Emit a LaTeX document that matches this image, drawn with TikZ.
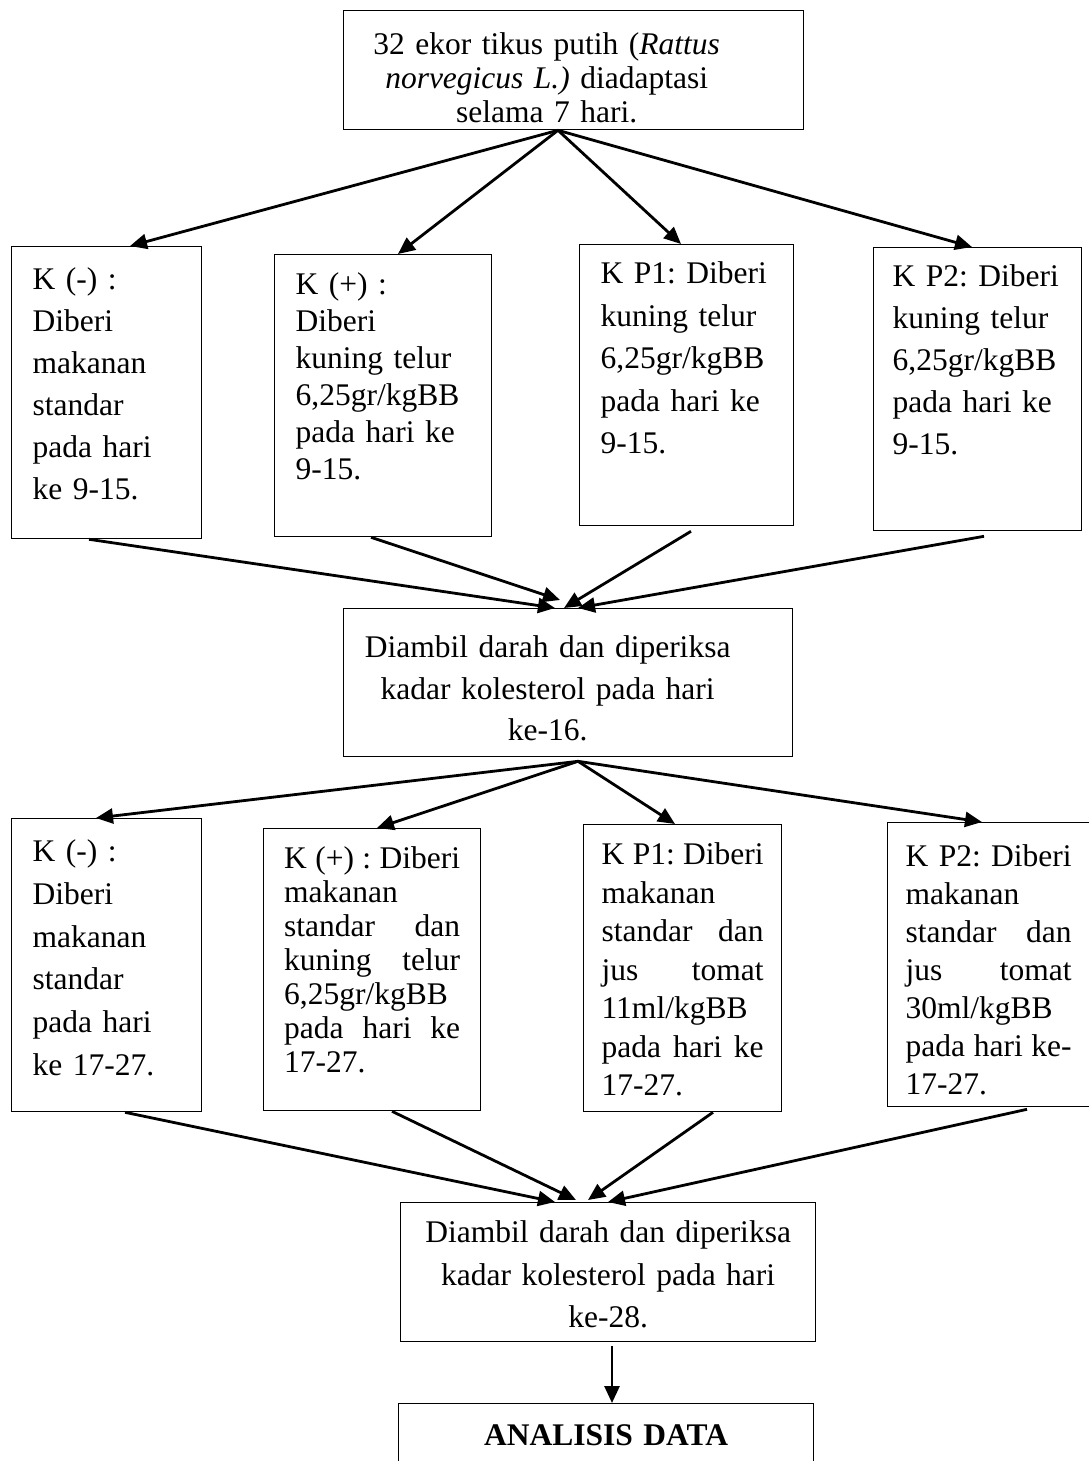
\documentclass[tikz,border=0pt]{standalone}
\usepackage{fontspec}
\setmainfont{Liberation Serif}
\usepackage{tikz}
\usetikzlibrary{arrows.meta}

\begin{document}
\frenchspacing
\begin{tikzpicture}[
    x=1pt, y=-1pt,
    box/.style={draw, line width=1.3pt, rectangle, anchor=north west,
                inner xsep=21pt, inner ysep=0pt, align=left},
    fs/.style={font=\fontsize{31.5}{#1}\selectfont},
    arr/.style={-{Triangle[length=17pt,width=15pt]}, line width=2.8pt},
  ]
  \useasboundingbox (0,0) rectangle (1089,1461);
  \clip (0,0) rectangle (1089,1461);

  % awal
  \node[box, fs=34, align=center, inner xsep=10pt, text width=440pt,
        text height=44pt, text depth=75pt] (top) at (343,10)
        {\hspace*{-54pt}32 ekor tikus putih (\textit{Rattus}\\
         \hspace*{-54pt}\textit{norvegicus L.)} diadaptasi\\
         \hspace*{-54pt}selama 7 hari.};

  % perlakuan hari 9-15
  \node[box, fs=42, text width=148pt, text height=43pt, text depth=249pt]
        (a1) at (11,246)
        {K (-) :\\ Diberi\\ makanan\\ standar\\ pada hari\\ ke 9-15.};
  \node[box, fs=37, text width=175pt, text height=40pt, text depth=242pt]
        (a2) at (274,254)
        {K (+) :\\ Diberi\\ kuning telur\\ 6,25gr/kgBB\\ pada hari ke\\ 9-15.};
  \node[box, fs=42.5, text width=172pt, text height=39pt, text depth=242pt]
        (a3) at (579,244)
        {K P1: Diberi\\ kuning telur\\ 6,25gr/kgBB\\ pada hari ke\\ 9-15.};
  \node[box, fs=42, inner xsep=19pt, text width=170pt, text height=39pt,
        text depth=244pt] (a4) at (873,247)
        {K P2: Diberi\\ kuning telur\\ 6,25gr/kgBB\\ pada hari ke\\ 9-15.};

  \node[box, fs=41.5, align=center, inner xsep=10pt, text width=429pt,
        text height=49pt, text depth=99pt] (m1) at (343,608)
        {\hspace*{-41pt}Diambil darah dan diperiksa\\
         \hspace*{-41pt}kadar kolesterol pada hari\\
         \hspace*{-41pt}ke-16.};

  % perlakuan hari 17-27
  \node[box, fs=42.7, text width=148pt, text height=43pt, text depth=250pt]
        (b1) at (11,818)
        {K (-) :\\ Diberi\\ makanan\\ standar\\ pada hari\\ ke 17-27.};
  \node[box, fs=34, inner xsep=20.5pt, text width=176pt, text height=40pt,
        text depth=242pt] (b2) at (263,828)
        {K\hfill(+)\hfill:\hfill Diberi\\ makanan\\ standar\hfill dan\\
         kuning\hfill telur\\ 6,25gr/kgBB\\ pada\hfill hari\hfill ke\\ 17-27.};
  \node[box, fs=38.5, inner xsep=18pt, text width=162pt, text height=40pt,
        text depth=247pt] (b3) at (583,824)
        {K\hfill P1:\hfill Diberi\\ makanan\\ standar\hfill dan\\
         jus\hfill tomat\\ 11ml/kgBB\\ pada\hfill hari\hfill ke\\ 17-27.};
  \node[box, fs=38, inner xsep=18pt, text width=166pt, text height=44pt,
        text depth=240pt] (b4) at (887,822)
        {K\hfill P2:\hfill Diberi\\ makanan\\ standar\hfill dan\\
         jus\hfill tomat\\ 30ml/kgBB\\ pada\hfill hari\hfill ke-\\ 17-27.};

  \node[box, fs=42.5, align=center, inner xsep=10pt, text width=395pt,
        text height=40pt, text depth=99pt] (m2) at (400,1202)
        {Diambil darah dan diperiksa\\
         kadar kolesterol pada hari\\
         ke-28.};

  \node[box, fs=42, align=center, inner xsep=10pt, text width=395pt,
        text height=42pt, text depth=40pt] (ad) at (398,1403)
        {\textbf{ANALISIS DATA}};

  % panah
  \draw[arr] ([xshift=215pt]top.south west) -- ([xshift=119pt]a1.north west);
  \draw[arr] ([xshift=215pt]top.south west) -- ([xshift=124pt]a2.north west);
  \draw[arr] ([xshift=215pt]top.south west) -- ([xshift=102pt]a3.north west);
  \draw[arr] ([xshift=215pt]top.south west) -- ([xshift=99pt]a4.north west);

  \draw[arr] ([xshift=78pt]a1.south west) -- ([xshift=212pt]m1.north west);
  \draw[arr] ([xshift=97pt]a2.south west) -- ([xshift=217pt,yshift=8pt]m1.north west);
  \draw[arr] ([xshift=112pt,yshift=-5pt]a3.south west) -- ([xshift=221pt]m1.north west);
  \draw[arr] ([xshift=111pt,yshift=-5pt]a4.south west) -- ([xshift=235pt]m1.north west);

  \draw[arr] ([xshift=235pt,yshift=-4pt]m1.south west) -- ([xshift=85pt]b1.north west);
  \draw[arr] ([xshift=235pt,yshift=-4pt]m1.south west) -- ([xshift=114pt]b2.north west);
  \draw[arr] ([xshift=235pt,yshift=-4pt]m1.south west) -- ([xshift=92pt]b3.north west);
  \draw[arr] ([xshift=235pt,yshift=-4pt]m1.south west) -- ([xshift=95pt]b4.north west);

  \draw[arr] ([xshift=114pt]b1.south west) -- ([xshift=155pt]m2.north west);
  \draw[arr] ([xshift=129pt]b2.south west) -- ([xshift=176pt,yshift=2pt]m2.north west);
  \draw[arr] ([xshift=130pt]b3.south west) -- ([xshift=188pt,yshift=2pt]m2.north west);
  \draw[arr] ([xshift=140pt,yshift=-2pt]b4.south west) -- ([xshift=208pt]m2.north west);

  \draw[arr] ([xshift=212pt,yshift=-4pt]m2.south west) -- ([xshift=214pt]ad.north west);
\end{tikzpicture}
\end{document}
